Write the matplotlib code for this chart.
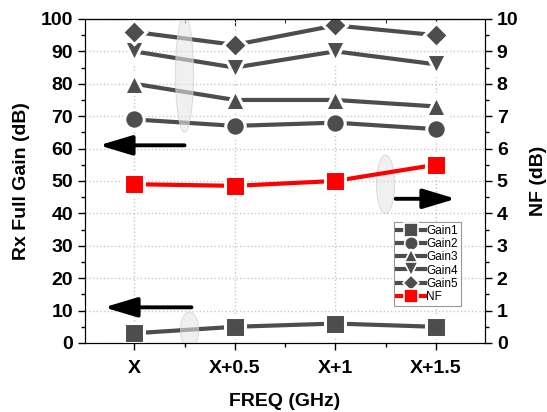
import matplotlib
matplotlib.use('Agg')
import matplotlib.pyplot as plt
from matplotlib.patches import Ellipse
from matplotlib.ticker import MultipleLocator

plt.rcParams['font.family'] = ['Liberation Sans', 'DejaVu Sans']

freq = ['X', 'X+0.5', 'X+1', 'X+1.5']
gain1 = [3, 5, 6, 5]
gain2 = [69, 67, 68, 66]
gain3 = [80, 75, 75, 73]
gain4 = [90, 85, 90, 86]
gain5 = [96, 92, 98, 95]
nf = [4.9, 4.85, 5.0, 5.5]

gray = '#4d4d4d'
xs = list(range(len(freq)))

fig = plt.figure(figsize=(5.47, 4.12), dpi=100)
ax = fig.add_axes([0.1554, 0.1675, 0.7313, 0.7865])
ax2 = ax.twinx()

h = []
for vals, m, lab in [(gain1, 's', 'Gain1'), (gain2, 'o', 'Gain2'), (gain3, '^', 'Gain3'),
                     (gain4, 'v', 'Gain4'), (gain5, 'D', 'Gain5')]:
    ms = 14 if m != 'D' else 12
    # white marker edge gives the small gap between line and symbol
    l, = ax.plot(xs, vals, color=gray, lw=3, marker=m, ms=ms, mfc=gray, mec='white',
                 mew=2.2, label=lab, zorder=3)
    h.append(l)
l, = ax2.plot(xs, nf, color='red', lw=3, marker='s', ms=14, mfc='red', mec='white',
              mew=2.2, label='NF', zorder=3)
h.append(l)

ax.set_xlim(-0.49, 3.49)
ax.set_ylim(0, 100)
ax2.set_ylim(0, 10)
ax.set_xticks(xs)
ax.set_xticklabels(freq)
ax.xaxis.set_minor_locator(MultipleLocator(0.5))
ax.yaxis.set_major_locator(MultipleLocator(10))
ax.yaxis.set_minor_locator(MultipleLocator(5))
ax2.yaxis.set_major_locator(MultipleLocator(1))
ax2.yaxis.set_minor_locator(MultipleLocator(0.5))

ax.grid(True, which='major', ls=':', color='#c8c8c8', lw=1)
ax.tick_params(axis='x', which='both', direction='out', top=False)
ax.tick_params(axis='x', which='major', pad=7)
ax.tick_params(axis='both', which='major', length=5, width=1, labelsize=14)
ax.tick_params(axis='both', which='minor', length=3, width=1)
ax2.tick_params(axis='y', which='major', length=5, width=1, labelsize=14)
ax2.tick_params(axis='y', which='minor', length=3, width=1)
for t in ax.get_xticklabels() + ax.get_yticklabels() + ax2.get_yticklabels():
    t.set_fontweight('bold')

# top ticks pointing inward
sec = ax.secondary_xaxis('top')
sec.set_xticks(xs)
sec.xaxis.set_minor_locator(MultipleLocator(0.5))
sec.tick_params(which='major', direction='in', length=5, labeltop=False)
sec.tick_params(which='minor', direction='in', length=3)
sec.set_xticklabels([])

ax.set_xlabel('FREQ (GHz)', fontsize=14, fontweight='bold', labelpad=12)
ax.set_ylabel('Rx Full Gain (dB)', fontsize=14, fontweight='bold', labelpad=8)
ax2.set_ylabel('NF (dB)', fontsize=14, fontweight='bold', labelpad=8)

# marker ellipses
for cx, cy, w, hh in [(0.5, 83, 0.18, 36), (2.5, 49, 0.18, 18), (0.55, 4, 0.18, 11)]:
    ax.add_patch(Ellipse((cx, cy), w, hh, facecolor='#e6e6e6', edgecolor='#cccccc',
                         alpha=0.6, lw=0.8, zorder=4))

# arrows
arw = dict(arrowstyle='-|>,head_length=2.0,head_width=0.6', color='black', lw=2.8,
           shrinkA=0, shrinkB=0)
ax.annotate('', xy=(-0.35, 61), xytext=(0.5, 61), arrowprops=arw)
ax.annotate('', xy=(3.2, 44.5), xytext=(2.6, 44.5), arrowprops=arw)
ax.annotate('', xy=(-0.3, 11), xytext=(0.57, 11), arrowprops=arw)

leg = ax.legend(handles=h, loc='upper left', bbox_to_anchor=(0.772, 0.373), fontsize=8.5,
                frameon=True, fancybox=False, edgecolor='#808080', handlelength=2.4,
                handletextpad=0.1, labelspacing=0.1, borderpad=0.25, markerscale=0.7,
                borderaxespad=0)
leg.get_frame().set_linewidth(0.8)
for lh in leg.get_lines():
    lh.set_markeredgewidth(1.2)

fig.savefig('out.png', dpi=100)
